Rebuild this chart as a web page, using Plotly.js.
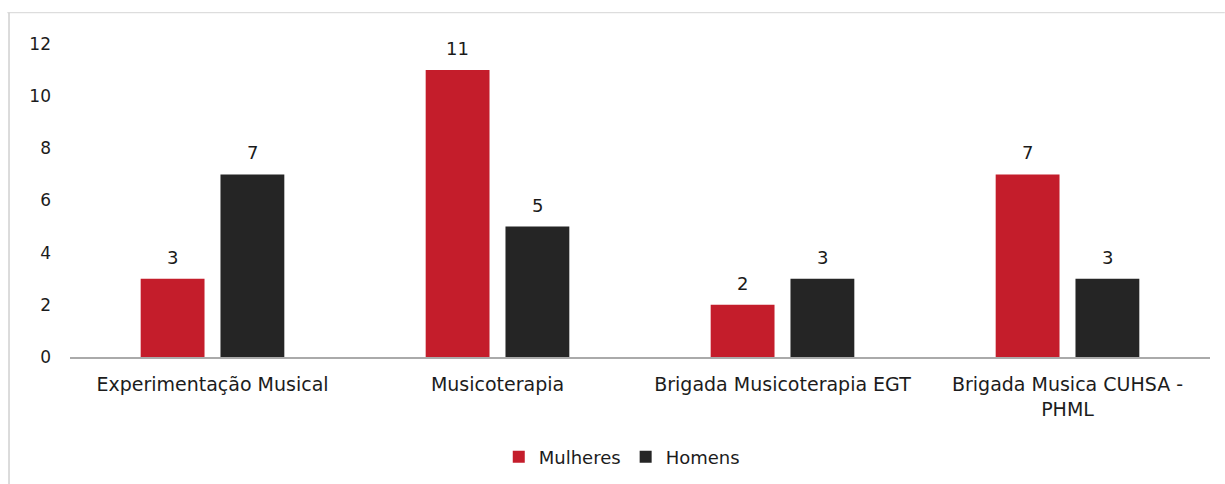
<!DOCTYPE html>
<html>
<head>
<meta charset="utf-8">
<script src="https://cdn.plot.ly/plotly-3.0.1.min.js"></script>
<style>html,body{margin:0;padding:0;background:#fff;}#chart{width:1225px;height:484px;}</style>
</head>
<body>
<div id="chart"></div>
<script>
const categories = ["Experimentação Musical", "Musicoterapia", "Brigada Musicoterapia EGT", "Brigada Musica CUHSA -<br>PHML"];
const mulheres = [3, 11, 2, 7];
const homens = [7, 5, 3, 3];
const seriesNames = ["Mulheres", "Homens"];
const yTicks = [0, 2, 4, 6, 8, 10, 12];

const font = "DejaVu Sans, sans-serif";
const colors = ["#c41d2b", "#252525"];
const traces = [
  {type: "bar", name: seriesNames[0], x: categories, y: mulheres, marker: {color: colors[0]}, hoverinfo: "none"},
  {type: "bar", name: seriesNames[1], x: categories, y: homens, marker: {color: colors[1]}, hoverinfo: "none"}
];
const annotations = [];
[mulheres, homens].forEach((vals, si) => {
  vals.forEach((v, i) => {
    annotations.push({x: categories[i], y: v, xref: "x", yref: "y", text: String(v), showarrow: false,
      xshift: si === 0 ? -40 : 40, yshift: 9, yanchor: "bottom", font: {size: 18, color: "#1a1a1a"}});
  });
});
const layout = {
  width: 1225, height: 484,
  margin: {l: 70, r: 15, t: 44, b: 127, autoexpand: false},
  paper_bgcolor: "#fff", plot_bgcolor: "#fff",
  font: {family: font, size: 17, color: "#1c1c1c"},
  barmode: "group", bargap: 0.44, bargroupgap: 0.2,
  showlegend: true,
  legend: {orientation: "h", x: 0.484, xanchor: "center", y: -0.32, yanchor: "middle", font: {size: 18}, itemwidth: 30, traceorder: "normal"},
  xaxis: {showline: true, linecolor: "#aaa", linewidth: 1.5, ticks: "", tickfont: {size: 19}, showgrid: false, zeroline: false, ticklabelstandoff: 10, automargin: false},
  yaxis: {range: [0, 12], tickvals: yTicks, ticktext: yTicks.map(String), showgrid: false, zeroline: false, showline: false, ticks: "", tickfont: {size: 17}, ticklabelstandoff: 18, automargin: false},
  annotations: annotations,
  shapes: [
    {type: "line", xref: "paper", yref: "paper", x0: -0.055, x1: 1.013, y0: 1.1, y1: 1.1, line: {color: "#d6d6d6", width: 1}},
    {type: "line", xref: "paper", yref: "paper", x0: -0.0535, x1: -0.0535, y0: 1.1, y1: -0.41, line: {color: "#d0d0d0", width: 1.5}}
  ]
};
Plotly.newPlot("chart", traces, layout, {displayModeBar: false, staticPlot: true});
</script>
</body>
</html>
